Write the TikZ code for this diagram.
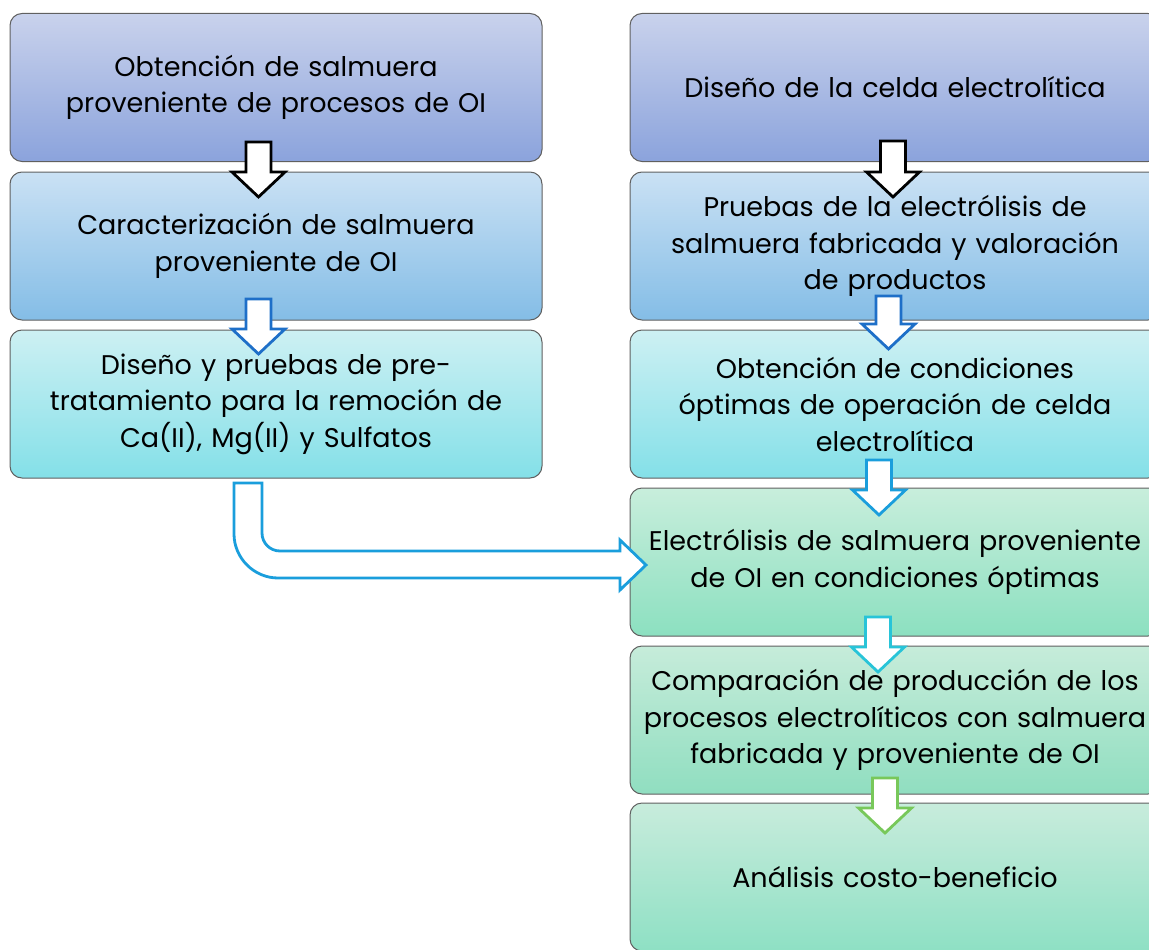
\documentclass[tikz,border=0pt]{standalone}
\usepackage{fontspec}
\setmainfont{Poppins}
\begin{document}
\begin{tikzpicture}[x=1pt, y=-1pt,
  box/.style={draw=gray!75!black, line width=1pt, rounded corners=12pt, align=center,
    minimum height=148pt, inner xsep=0pt, inner ysep=4pt, font=\fontsize{27}{36.5}\selectfont},
  leftbox/.style={box, text width=532pt},
  rightbox/.style={box, text width=530pt},
  blockarrow/.style={fill=white, line width=2.8pt, line join=miter}]

\useasboundingbox (0,0) rectangle (1149,950);
\clip (0,0) rectangle (1149,950);

% left column
\node [leftbox, top color={rgb,255:red,201;green,210;blue,236}, bottom color={rgb,255:red,139;green,163;blue,220}] (obtencion) at (276,87.5) {Obtención de salmuera\\proveniente de procesos de OI};
\node [leftbox, top color={rgb,255:red,202;green,225;blue,244}, bottom color={rgb,255:red,132;green,189;blue,230}] (caracterizacion) at (276,246) {Caracterización de salmuera\\proveniente de OI};
\node [leftbox, top color={rgb,255:red,205;green,240;blue,243}, bottom color={rgb,255:red,132;green,224;blue,232}] (pretratamiento) at (276,404) {Diseño y pruebas de pre-\\tratamiento para la remoción de\\Ca(II), Mg(II) y Sulfatos};

% right column
\node [rightbox, top color={rgb,255:red,201;green,210;blue,236}, bottom color={rgb,255:red,139;green,163;blue,220}] (diseno) at (895,87.5) {Diseño de la celda electrolítica};
\node [rightbox, top color={rgb,255:red,202;green,225;blue,244}, bottom color={rgb,255:red,132;green,189;blue,230}] (pruebas) at (895,246) {Pruebas de la electrólisis de\\salmuera fabricada y valoración\\de productos};
\node [rightbox, top color={rgb,255:red,205;green,240;blue,243}, bottom color={rgb,255:red,132;green,224;blue,232}] (condiciones) at (895,404) {Obtención de condiciones\\óptimas de operación de celda\\electrolítica};
\node [rightbox, top color={rgb,255:red,200;green,238;blue,220}, bottom color={rgb,255:red,140;green,224;blue,192}] (electrolisis) at (895,562) {Electrólisis de salmuera proveniente\\de OI en condiciones óptimas};
\node [rightbox, top color={rgb,255:red,198;green,236;blue,218}, bottom color={rgb,255:red,144;green,222;blue,192}] (comparacion) at (895,720) {Comparación de producción de los\\procesos electrolíticos con salmuera\\fabricada y proveniente de OI};
\node [rightbox, top color={rgb,255:red,200;green,236;blue,220}, bottom color={rgb,255:red,142;green,224;blue,196}] (analisis) at (895,877) {Análisis costo-beneficio};

% block arrows
\foreach \cx/\ytop/\ytip/\col in {258.5/142/197/black, 258.5/299/354/{rgb,255:red,30;green,111;blue,200},
    893/141/197/black, 888.5/296/349/{rgb,255:red,30;green,111;blue,200},
    879/460/515/{rgb,255:red,26;green,158;blue,220}, 878/617/672/{rgb,255:red,40;green,196;blue,216},
    885/778/833/{rgb,255:red,120;green,200;blue,90}}
  \filldraw [blockarrow, draw=\col] (\cx-12.5,\ytop) -- (\cx+12.5,\ytop) -- (\cx+12.5,\ytip-25) -- (\cx+26.5,\ytip-25)
      -- (\cx,\ytip) -- (\cx-26.5,\ytip-25) -- (\cx-12.5,\ytip-25) -- cycle;

\filldraw [blockarrow, draw={rgb,255:red,26;green,158;blue,220}] (234,483) -- (262,483) -- (262,533)
    .. controls (262,543) and (270,551) .. (280,551) -- (620,551) -- (620,540) -- (646,565) -- (620,590)
    -- (620,578) -- (278,578) .. controls (254,578) and (234,558) .. (234,534) -- cycle;

\end{tikzpicture}
\end{document}
